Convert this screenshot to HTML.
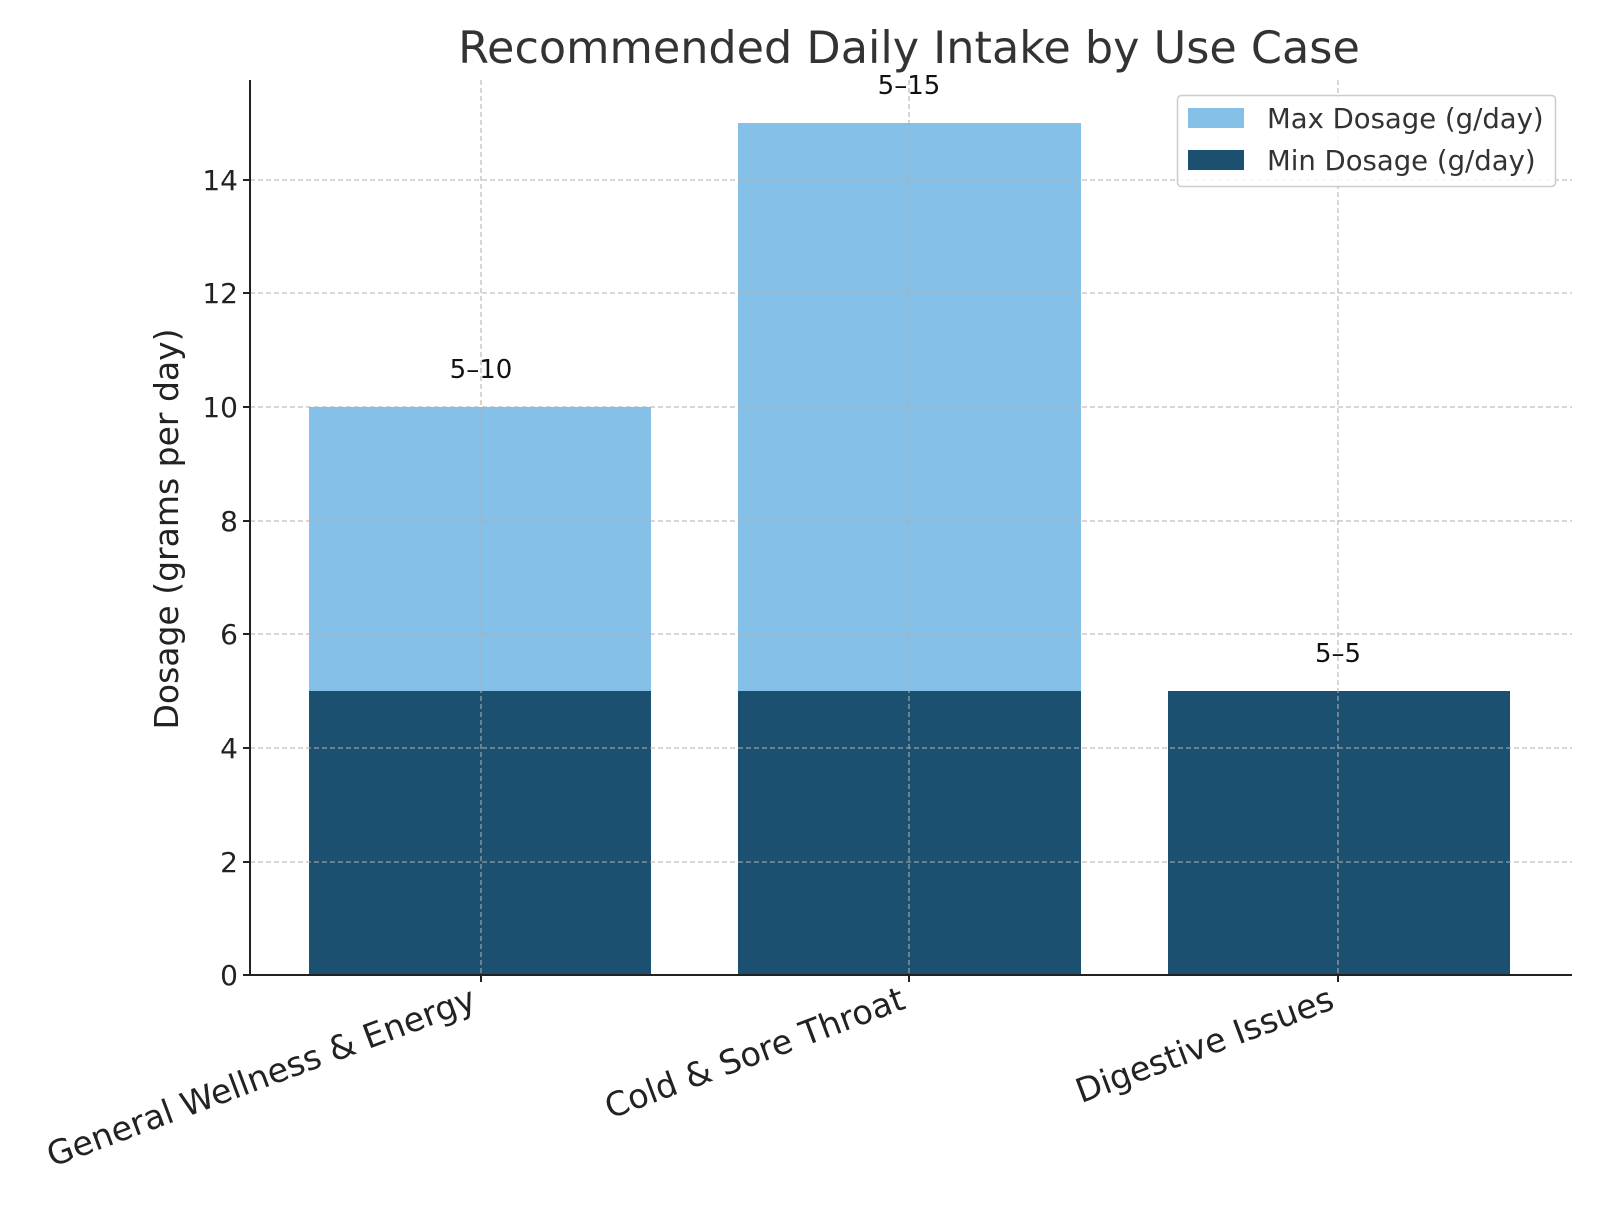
<!DOCTYPE html><html><head><style>body{margin:0;background:#fff}</style></head><body>
<svg width="1600" height="1200" xmlns="http://www.w3.org/2000/svg" font-family="DejaVu Sans, Liberation Sans, sans-serif">
<rect width="1600" height="1200" fill="#fff"/>
<rect x="309" y="407" width="342" height="284" fill="#85c0e8"/>
<rect x="738" y="123" width="343" height="568" fill="#85c0e8"/>
<rect x="309" y="691" width="342" height="284" fill="#1c5070"/>
<rect x="738" y="691" width="343" height="284" fill="#1c5070"/>
<rect x="1168" y="691" width="342" height="284" fill="#1c5070"/>
<g stroke="#b0b0b0" stroke-width="1.3" stroke-dasharray="5,3" opacity="0.8">
<line x1="250" x2="1572" y1="862" y2="862"/><line x1="250" x2="1572" y1="748" y2="748"/><line x1="250" x2="1572" y1="634" y2="634"/><line x1="250" x2="1572" y1="521" y2="521"/><line x1="250" x2="1572" y1="407" y2="407"/><line x1="250" x2="1572" y1="293" y2="293"/><line x1="250" x2="1572" y1="180" y2="180"/>
<line x1="481" x2="481" y1="80" y2="975"/><line x1="909" x2="909" y1="80" y2="975"/><line x1="1338" x2="1338" y1="80" y2="975"/>
</g>
<line x1="250" y1="80" x2="250" y2="976" stroke="#222" stroke-width="2"/>
<line x1="249" y1="975" x2="1572" y2="975" stroke="#222" stroke-width="2"/>
<g font-size="28" fill="#222" text-anchor="end">
<text x="238" y="985">0</text><text x="238" y="872">2</text><text x="238" y="758">4</text><text x="238" y="644">6</text><text x="238" y="531">8</text><text x="238" y="417">10</text><text x="238" y="303">12</text><text x="238" y="190">14</text>
</g>
<g stroke="#222" stroke-width="2"><line x1="243" x2="250" y1="975" y2="975"/><line x1="243" x2="250" y1="862" y2="862"/><line x1="243" x2="250" y1="748" y2="748"/><line x1="243" x2="250" y1="634" y2="634"/><line x1="243" x2="250" y1="521" y2="521"/><line x1="243" x2="250" y1="407" y2="407"/><line x1="243" x2="250" y1="293" y2="293"/><line x1="243" x2="250" y1="180" y2="180"/>
<line x1="481" x2="481" y1="975" y2="982"/><line x1="909" x2="909" y1="975" y2="982"/><line x1="1338" x2="1338" y1="975" y2="982"/></g>
<text x="167" y="529" font-size="33" fill="#222" text-anchor="middle" transform="rotate(-90 167 529)" dy="11">Dosage (grams per day)</text>
<text x="909" y="63" font-size="44.5" fill="#333" text-anchor="middle">Recommended Daily Intake by Use Case</text>
<g font-size="26" fill="#111" text-anchor="middle"><text x="481" y="378">5–10</text><text x="909" y="94">5–15</text><text x="1338" y="662">5–5</text></g>
<g font-size="33.5" fill="#222" text-anchor="end">
<text transform="translate(478,1008) rotate(-20.5)">General Wellness &amp; Energy</text>
<text transform="translate(907,1008) rotate(-20.5)">Cold &amp; Sore Throat</text>
<text transform="translate(1336,1008) rotate(-20.5)">Digestive Issues</text>
</g>
<rect x="1177.5" y="95.5" width="378" height="91" rx="4" fill="#fff" fill-opacity="0.85" stroke="#ccc" stroke-width="1.5"/>
<rect x="1188" y="108" width="56" height="20" fill="#85c0e8"/>
<rect x="1188" y="150" width="56" height="20" fill="#1c5070"/>
<g font-size="27.5" fill="#333"><text x="1267" y="128">Max Dosage (g/day)</text><text x="1267" y="170">Min Dosage (g/day)</text></g>
</svg></body></html>
